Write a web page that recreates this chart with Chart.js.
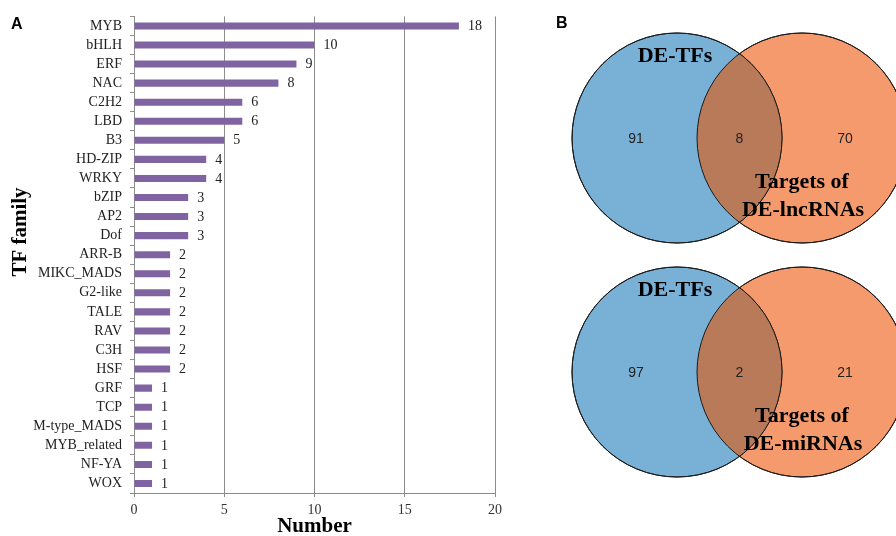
<!DOCTYPE html>
<html>
<head>
<meta charset="utf-8">
<script src="https://cdn.jsdelivr.net/npm/chart.js@4.4.1/dist/chart.umd.min.js"></script>
<style>
  html, body { margin: 0; padding: 0; background: #fff; }
  #wrap { position: relative; width: 896px; height: 536px; overflow: hidden; background: #fff; }
  #bars { position: absolute; left: 0; top: 0; }
  #venn { position: absolute; left: 540px; top: 0; }
</style>
</head>
<body>
<div id="wrap">
  <canvas id="bars" width="540" height="536"></canvas>
  <canvas id="venn" width="356" height="536"></canvas>
</div>
<script>
// Panel A: transcription factor families and their counts
const families = ['MYB', 'bHLH', 'ERF', 'NAC', 'C2H2', 'LBD', 'B3', 'HD-ZIP', 'WRKY',
  'bZIP', 'AP2', 'Dof', 'ARR-B', 'MIKC_MADS', 'G2-like', 'TALE', 'RAV', 'C3H', 'HSF',
  'GRF', 'TCP', 'M-type_MADS', 'MYB_related', 'NF-YA', 'WOX'];
const familyCounts = [18, 10, 9, 8, 6, 6, 5, 4, 4, 3, 3, 3, 2, 2, 2, 2, 2, 2, 2, 1, 1, 1, 1, 1, 1];
const numberTicks = [0, 5, 10, 15, 20];

// Panel B: overlaps of DE-TFs with lncRNA targets (top) and miRNA targets (bottom)
const vennLeftName = 'DE-TFs';
const vennRightNames = [['Targets of', 'DE-lncRNAs'], ['Targets of', 'DE-miRNAs']];
const vennTfOnly = [91, 97];
const vennShared = [8, 2];
const vennTargetOnly = [70, 21];

const SERIF = '"Liberation Serif", "Times New Roman", serif';
const SANS = '"Liberation Sans", Arial, sans-serif';
const GRID = '#8c8c8c';

Chart.defaults.animation = false;
Chart.defaults.events = [];

// ---------- bar chart ----------
const barDecor = {
  id: 'barDecor',
  afterDatasetsDraw(chart) {
    const ctx = chart.ctx;
    const meta = chart.getDatasetMeta(0);
    ctx.save();
    ctx.font = '14px ' + SERIF;
    ctx.fillStyle = '#222';
    ctx.textAlign = 'left';
    ctx.textBaseline = 'middle';
    meta.data.forEach((bar, i) => {
      ctx.fillText(String(familyCounts[i]), bar.x + 9, bar.y + 0.5);
    });
    ctx.restore();
  },
  afterDraw(chart) {
    const ctx = chart.ctx;
    const area = chart.chartArea;
    ctx.save();
    ctx.fillStyle = '#000';
    ctx.font = 'bold 21px ' + SERIF;
    ctx.textAlign = 'center';
    ctx.textBaseline = 'alphabetic';
    ctx.fillText('Number', (area.left + area.right) / 2, 532);
    ctx.translate(26, 232);
    ctx.rotate(-Math.PI / 2);
    ctx.fillText('TF family', 0, 0);
    ctx.restore();

    ctx.save();
    ctx.fillStyle = '#000';
    ctx.font = 'bold 16px ' + SANS;
    ctx.textAlign = 'left';
    ctx.textBaseline = 'alphabetic';
    ctx.fillText('A', 11, 29);
    ctx.restore();
  }
};

new Chart(document.getElementById('bars'), {
  type: 'bar',
  data: {
    labels: families,
    datasets: [{
      data: familyCounts,
      backgroundColor: '#8064a2',
      borderWidth: 0,
      barPercentage: 0.37,
      categoryPercentage: 1
    }]
  },
  options: {
    indexAxis: 'y',
    responsive: false,
    devicePixelRatio: 1,
    layout: { padding: { left: 0, right: 45, top: 14, bottom: 0 } },
    plugins: { legend: { display: false }, tooltip: { enabled: false } },
    scales: {
      x: {
        type: 'linear',
        min: numberTicks[0],
        max: numberTicks[numberTicks.length - 1],
        afterBuildTicks(scale) { scale.ticks = numberTicks.map(v => ({ value: v })); },
        afterFit(scale) { scale.height = 43; },
        grid: { color: GRID, lineWidth: 1, tickLength: 4, drawTicks: true },
        border: { color: GRID, width: 1 },
        ticks: { font: { family: SERIF, size: 14 }, color: '#333', padding: 5, maxRotation: 0 }
      },
      y: {
        type: 'category',
        offset: true,
        afterFit(scale) { scale.width = 134; },
        grid: { offset: true, drawOnChartArea: false, color: GRID, tickLength: 4 },
        border: { color: GRID, width: 1 },
        ticks: { font: { family: SERIF, size: 14 }, color: '#222', padding: 8, autoSkip: false }
      }
    }
  },
  plugins: [barDecor]
});

// ---------- Venn diagrams ----------
const vennLayout = { leftX: 137, rightX: 262, rowY: [138, 372], r: 105 };
const BLUE = '#78b0d6';
const ORANGE = '#f59a6c';
const OVERLAP = '#b97a5a';

const vennDecor = {
  id: 'vennDecor',
  afterDatasetsDraw(chart) {
    const ctx = chart.ctx;
    const left = chart.getDatasetMeta(0).data;
    const right = chart.getDatasetMeta(1).data;
    left.forEach((a, i) => {
      const b = right[i];
      const ra = a.options.radius, rb = b.options.radius;
      // shared region
      ctx.save();
      ctx.beginPath();
      ctx.arc(a.x, a.y, ra, 0, Math.PI * 2);
      ctx.clip();
      ctx.beginPath();
      ctx.arc(b.x, b.y, rb, 0, Math.PI * 2);
      ctx.fillStyle = OVERLAP;
      ctx.fill();
      ctx.restore();
      // outlines
      ctx.save();
      ctx.lineWidth = 1;
      ctx.strokeStyle = '#1a1a1a';
      ctx.beginPath(); ctx.arc(a.x, a.y, ra, 0, Math.PI * 2); ctx.stroke();
      ctx.beginPath(); ctx.arc(b.x, b.y, rb, 0, Math.PI * 2); ctx.stroke();
      ctx.restore();

      // counts
      ctx.save();
      ctx.fillStyle = '#222';
      ctx.font = '14px ' + SANS;
      ctx.textAlign = 'center';
      ctx.textBaseline = 'middle';
      const midX = ((a.x + ra) + (b.x - rb)) / 2;
      ctx.fillText(String(vennTfOnly[i]), a.x - 41, a.y + 1);
      ctx.fillText(String(vennShared[i]), midX, a.y + 1);
      ctx.fillText(String(vennTargetOnly[i]), b.x + 43, b.y + 1);
      ctx.restore();

      // set names
      ctx.save();
      ctx.fillStyle = '#000';
      ctx.font = 'bold 22px ' + SERIF;
      ctx.textAlign = 'center';
      ctx.textBaseline = 'middle';
      ctx.fillText(vennLeftName, a.x - 2, a.y - 82);
      ctx.fillText(vennRightNames[i][0], b.x, b.y + 44);
      ctx.fillText(vennRightNames[i][1], b.x + 1, b.y + 72);
      ctx.restore();
    });

    ctx.save();
    ctx.fillStyle = '#000';
    ctx.font = 'bold 16px ' + SANS;
    ctx.textAlign = 'left';
    ctx.textBaseline = 'alphabetic';
    ctx.fillText('B', 16, 28);
    ctx.restore();
  }
};

new Chart(document.getElementById('venn'), {
  type: 'bubble',
  data: {
    datasets: [
      {
        label: vennLeftName,
        data: vennLayout.rowY.map(y => ({ x: vennLayout.leftX, y: y, r: vennLayout.r })),
        backgroundColor: BLUE,
        borderColor: '#1a1a1a',
        borderWidth: 1,
        clip: false
      },
      {
        label: 'Targets',
        data: vennLayout.rowY.map(y => ({ x: vennLayout.rightX, y: y, r: vennLayout.r })),
        backgroundColor: ORANGE,
        borderColor: '#1a1a1a',
        borderWidth: 1,
        clip: false
      }
    ]
  },
  options: {
    responsive: false,
    devicePixelRatio: 1,
    layout: { padding: 0, autoPadding: false },
    plugins: { legend: { display: false }, tooltip: { enabled: false } },
    scales: {
      x: { type: 'linear', min: 0, max: 356, display: false },
      y: { type: 'linear', min: 0, max: 536, reverse: true, display: false }
    }
  },
  plugins: [vennDecor]
});
</script>
</body>
</html>
